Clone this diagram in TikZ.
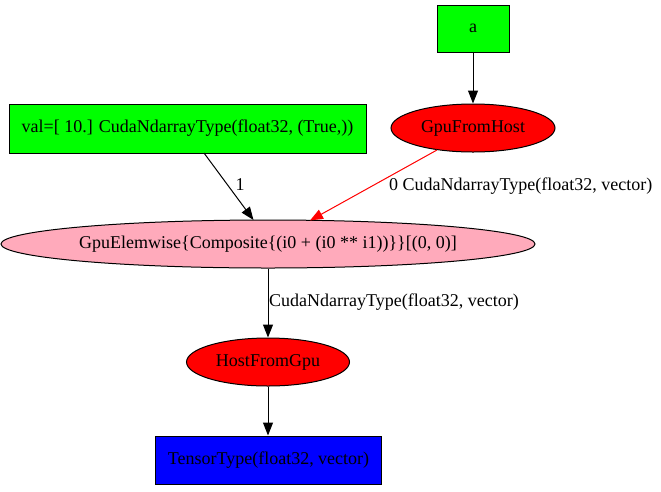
\documentclass[tikz,border=0pt]{standalone}
\usepackage{fontspec}
\setmainfont{Liberation Serif}
\usetikzlibrary{shapes.geometric,arrows.meta}
\definecolor{gvgreen}{HTML}{00FF00}
\definecolor{gvred}{HTML}{FF0000}
\definecolor{gvpink}{HTML}{FFAABB}
\definecolor{gvblue}{HTML}{0000FF}
\begin{document}
\begin{tikzpicture}[x=1pt,y=-1pt,
  every node/.style={font=\fontsize{18}{21}\selectfont, inner sep=0pt},
  boxnode/.style={draw=black, rectangle, line width=1pt},
  ellnode/.style={draw=black, ellipse, line width=1pt},
  edge/.style={draw=black, line width=1pt, -{Triangle[length=13pt,width=10pt]}},
  redge/.style={draw=gvred, line width=1pt, -{Triangle[length=13pt,width=10pt]}, color=gvred},
  elabel/.style={font=\fontsize{18}{21}\selectfont}]
\useasboundingbox (0,0) rectangle (661,491);
\node[boxnode, fill=gvgreen, minimum width=72pt, minimum height=47pt] (a) at (473,28.5) {a};
\node[ellnode, fill=gvred, minimum width=164pt, minimum height=48pt] (gfh) at (473,128) {GpuFromHost};
\node[boxnode, fill=gvgreen, minimum width=357pt, minimum height=49pt] (val) at (187.5,128.5) {val=[ 10.] CudaNdarrayType(float32, (True,))};
\node[ellnode, fill=gvpink, minimum width=528pt, minimum height=48pt] (elem) at (268,244) {GpuElemwise\{Composite\{(i0 + (i0 ** i1))\}\}[(0, 0)]};
\node[ellnode, fill=gvred, minimum width=163pt, minimum height=48pt] (hfg) at (268,362) {HostFromGpu};
\node[boxnode, fill=gvblue, minimum width=226pt, minimum height=48pt] (tt) at (268.5,460) {TensorType(float32, vector)};
\coordinate (valout) at (204,153);
\coordinate (elemin1) at (253.5,220);
\coordinate (gfhout) at (437,150);
\coordinate (elemin0) at (310,220.5);
\draw[edge] (a) -- (gfh);
\draw[edge] (valout) -- (elemin1);
\draw[redge] (gfhout) -- (elemin0);
\draw[edge] (elem.south) -- (hfg.north);
\draw[edge] (hfg.south) -- (hfg.south |- tt.north);
\node[elabel] (l1) at (240,185) {1};
\node[elabel, anchor=west] (l0) at (389,186) {0 CudaNdarrayType(float32, vector)};
\node[elabel, anchor=west] (l2) at (269,302) {CudaNdarrayType(float32, vector)};
\end{tikzpicture}
\end{document}
